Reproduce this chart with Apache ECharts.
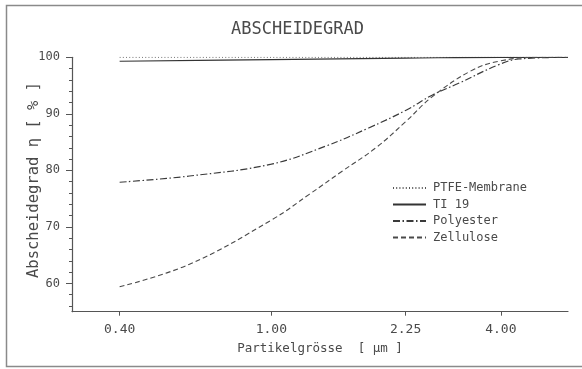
<!DOCTYPE html>
<html>
<head>
<meta charset="utf-8">
<script src="https://cdn.jsdelivr.net/npm/echarts@6/dist/echarts.min.js"></script>
<style>
html,body{margin:0;padding:0;background:#fff;}
#c{width:582px;height:369px;}
</style>
</head>
<body>
<div id="c"></div>
<script>
// ---- data ----
const seriesNames = ['PTFE-Membrane', 'TI 19', 'Polyester', 'Zellulose'];

const ptfeSize = [0.4, 6.0];
const ptfeVal  = [100, 100];

const ti19Size = [0.4, 1.0, 2.25, 4.0, 6.0];
const ti19Val  = [99.3, 99.6, 99.85, 100, 100];

const polySize = [0.4, 0.61, 1.0, 1.39, 1.8, 2.25, 2.64, 3.1, 3.95, 4.46, 6.0];
const polyVal  = [77.9, 79.0, 81.1, 84.3, 87.5, 90.6, 93.3, 95.4, 98.7, 99.7, 100];

const zellSize = [0.4, 0.61, 1.0, 1.26, 1.53, 1.88, 2.25, 2.64, 3.34, 3.95, 5.0, 6.0];
const zellVal  = [59.4, 63.4, 71.2, 75.8, 79.8, 84.0, 88.6, 93.0, 97.6, 99.3, 100, 100];

const xTicks = [0.4, 1.0, 2.25, 4.0];
const yMajor = [60, 70, 80, 90, 100];
const yMinor = [56, 58, 62, 64, 66, 68, 72, 74, 76, 78, 82, 84, 86, 88, 92, 94, 96, 98];

const pairs = (xs, ys) => xs.map((x, i) => [x, ys[i]]);

const MONO = '"DejaVu Sans Mono", monospace';
const TXT = '#4a4a4a';
const AX = '#555';

const chart = echarts.init(document.getElementById('c'), null, {renderer: 'canvas'});
chart.setOption({
  backgroundColor: '#fff',
  animation: false,
  grid: {left: 72, right: 14, top: 57.3, bottom: 57.3, containLabel: false},
  xAxis: {
    type: 'log', logBase: 10, min: 0.3, max: 6,
    name: 'Partikelgrösse  [ μm ]', nameLocation: 'middle', nameGap: 31, nameMoveOverlap: false,
    nameTextStyle: {fontFamily: MONO, fontSize: 12.5, color: TXT},
    axisLine: {show: true, onZero: false, lineStyle: {color: AX, width: 1.2}},
    axisTick: {show: true, inside: false, length: 4, customValues: xTicks, lineStyle: {color: AX}},
    axisLabel: {show: true, margin: 11, customValues: xTicks, fontFamily: MONO, fontSize: 13, color: TXT,
      formatter: v => Number(v).toFixed(2)},
    splitLine: {show: false}, minorTick: {show: false}, minorSplitLine: {show: false}
  },
  yAxis: [{
    type: 'value', min: 55, max: 100,
    name: 'Abscheidegrad η [ % ]', nameLocation: 'middle', nameGap: 30, nameRotate: 90, nameMoveOverlap: false,
    nameTextStyle: {fontFamily: MONO, fontSize: 15.5, color: TXT, padding: [0, 0, 0, 9]},
    axisLine: {show: true, lineStyle: {color: AX, width: 1.2}},
    axisTick: {show: true, length: 6, customValues: yMajor, lineStyle: {color: AX}},
    axisLabel: {show: true, margin: 12, customValues: yMajor, fontFamily: MONO, fontSize: 12, color: TXT},
    splitLine: {show: false}
  }, {
    type: 'value', min: 55, max: 100, position: 'left',
    axisLine: {show: false},
    axisTick: {show: true, length: 3, customValues: yMinor, lineStyle: {color: AX}},
    axisLabel: {show: false},
    splitLine: {show: false}
  }],
  legend: {
    orient: 'vertical', left: 392, top: 182, padding: 0,
    itemWidth: 33, itemHeight: 10, itemGap: 4.5,
    data: seriesNames,
    itemStyle: {opacity: 0, borderWidth: 0},
    textStyle: {fontFamily: MONO, fontSize: 12, color: TXT, padding: [0, 0, 0, 2]}
  },
  graphic: [
    {type: 'rect', shape: {x: 6.5, y: 5.5, width: 600, height: 361}, style: {fill: 'none', stroke: '#8a8a8a', lineWidth: 1.5}, silent: true},
    {type: 'text', x: 297.5, y: 29.5, style: {text: 'ABSCHEIDEGRAD', font: '17px ' + MONO, fill: TXT, align: 'center', verticalAlign: 'middle'}}
  ],
  series: [
    {name: seriesNames[0], type: 'line', data: pairs(ptfeSize, ptfeVal), symbol: 'none', showSymbol: false,
      lineStyle: {color: '#555', width: 1.1, type: [1, 2.2]}, itemStyle: {color: '#555'}},
    {name: seriesNames[1], type: 'line', data: pairs(ti19Size, ti19Val), symbol: 'none', showSymbol: false, smooth: 0.4,
      lineStyle: {color: '#333', width: 1.2, type: 'solid'}, itemStyle: {color: '#333'}},
    {name: seriesNames[2], type: 'line', data: pairs(polySize, polyVal), symbol: 'none', showSymbol: false, smooth: 0.4,
      lineStyle: {color: '#3a3a3a', width: 1.2, type: [7, 2.5, 1.5, 2.5]}, itemStyle: {color: '#3a3a3a'}},
    {name: seriesNames[3], type: 'line', data: pairs(zellSize, zellVal), symbol: 'none', showSymbol: false, smooth: 0.4,
      lineStyle: {color: '#4a4a4a', width: 1.1, type: [5, 3]}, itemStyle: {color: '#4a4a4a'}}
  ]
});
</script>
</body>
</html>
